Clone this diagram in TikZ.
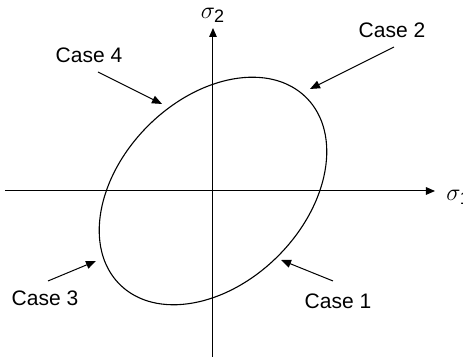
\documentclass[tikz,border=0pt]{standalone}
\usepackage{fontspec}
\setmainfont{Liberation Sans}
\usetikzlibrary{arrows.meta}

\begin{document}
\begin{tikzpicture}[x=0.5pt, y=0.5pt, >={Triangle[length=5pt,width=4pt]}]
\tikzset{
  lbl/.style={font=\fontsize{10.5}{12}\selectfont, inner sep=0pt},
  sig/.style={font=\fontsize{12}{14}\selectfont, inner sep=0pt},
  ptr/.style={->, line width=0.5pt},
  ax/.style={->, line width=0.5pt, >={Triangle[length=4.5pt,width=3.8pt]}}
}
\useasboundingbox (-213,-166) rectangle (250,191);
% axes
\coordinate (xl) at (-208,0);
\coordinate (xr) at (222,0);
\coordinate (yb) at (0,-166);
\coordinate (yt) at (0,163);
\draw[ax] (xl) -- (xr);
\draw[ax] (yb) -- (yt);
\node[sig, anchor=west] (s1) at (233,-6) {$\sigma_{\mbox{\fontsize{9}{10}\selectfont 1}}$};
\node[sig] (s2) at (0,176) {$\sigma_{\mbox{\fontsize{9}{10}\selectfont 2}}$};
% ellipse
\draw[line width=0.55pt, rotate=45] (0,0) ellipse (132 and 92);
% labels
\node[lbl] (c1) at (125,-110) {Case 1};
\node[lbl] (c2) at (179,161) {Case 2};
\node[lbl] (c3) at (-168,-107) {Case 3};
\node[lbl] (c4) at (-124,136) {Case 4};
\coordinate (c1s) at (120,-90);
\coordinate (c1t) at (68,-69);
\coordinate (c2s) at (181,144);
\coordinate (c2t) at (97,102);
\coordinate (c3s) at (-165,-90);
\coordinate (c3t) at (-117,-70);
\coordinate (c4s) at (-115,119);
\coordinate (c4t) at (-51,87);
\draw[ptr] (c1s) -- (c1t);
\draw[ptr] (c2s) -- (c2t);
\draw[ptr] (c3s) -- (c3t);
\draw[ptr] (c4s) -- (c4t);
\end{tikzpicture}
\end{document}
